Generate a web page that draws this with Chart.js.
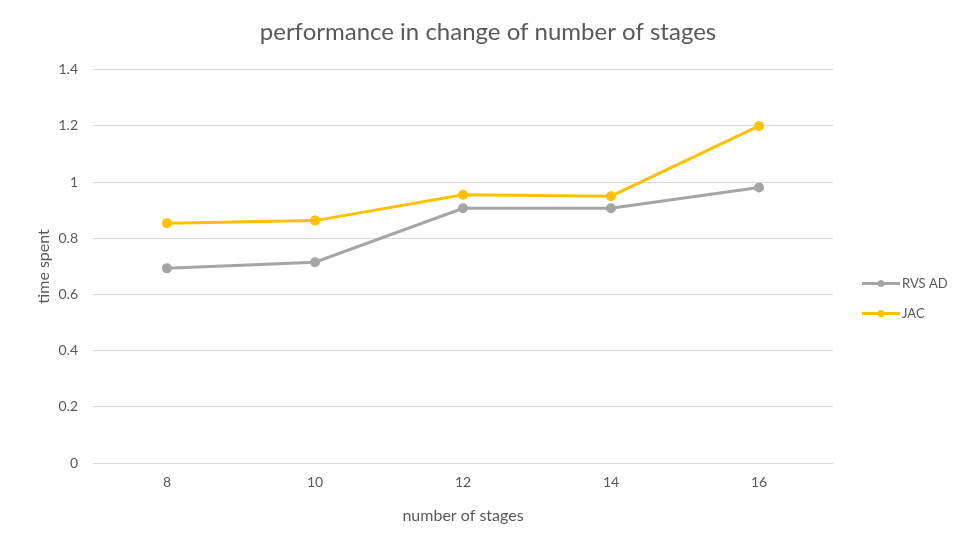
<!DOCTYPE html>
<html>
<head>
<meta charset="utf-8">
<script src="https://cdn.jsdelivr.net/npm/chart.js@4/dist/chart.umd.min.js"></script>
<style>
html,body{margin:0;padding:0;background:#fff;}
#wrap{width:956px;height:539px;}
</style>
</head>
<body>
<div id="wrap"><canvas id="c" width="956" height="539"></canvas></div>
<script>
const categories = ['8', '10', '12', '14', '16'];
const rvsAd = [0.693, 0.715, 0.907, 0.907, 0.981];
const jac = [0.854, 0.863, 0.955, 0.950, 1.2];
const seriesNames = ['RVS AD', 'JAC'];
const titleText = 'performance in change of number of stages';
const xTitle = 'number of stages';
const yTitle = 'time spent';

const FONT = 'Lato, "Open Sans", sans-serif';
const TXT = '#595959';

const legendPlugin = {
  id: 'sideLegend',
  afterDraw(chart) {
    const ctx = chart.ctx;
    const ca = chart.chartArea;
    const x0 = ca.right + 29;
    const mid = (ca.top + ca.bottom) / 2 + 32;
    const n = chart.data.datasets.length;
    ctx.save();
    chart.data.datasets.forEach((ds, i) => {
      const y = mid + (i - (n - 1) / 2) * 30;
      ctx.strokeStyle = ds.borderColor;
      ctx.lineWidth = 3;
      ctx.beginPath();
      ctx.moveTo(x0, y);
      ctx.lineTo(x0 + 38, y);
      ctx.stroke();
      ctx.fillStyle = ds.borderColor;
      ctx.beginPath();
      ctx.arc(x0 + 19, y, 3.5, 0, Math.PI * 2);
      ctx.fill();
      ctx.fillStyle = TXT;
      ctx.font = '13px ' + FONT;
      ctx.textBaseline = 'middle';
      ctx.textAlign = 'left';
      ctx.fillText(ds.label, x0 + 40, y);
    });
    ctx.restore();
  }
};

new Chart(document.getElementById('c'), {
  type: 'line',
  data: {
    labels: categories,
    datasets: [
      {label: seriesNames[0], data: rvsAd, borderColor: '#a5a5a5', backgroundColor: '#a5a5a5', borderWidth: 3, pointRadius: 3.5, pointHoverRadius: 3.5, tension: 0},
      {label: seriesNames[1], data: jac, borderColor: '#ffc000', backgroundColor: '#ffc000', borderWidth: 3, pointRadius: 3.5, pointHoverRadius: 3.5, tension: 0}
    ]
  },
  options: {
    responsive: false,
    animation: false,
    devicePixelRatio: 1,
    layout: {padding: {left: 20, right: 0, top: 0, bottom: 14}},
    plugins: {
      legend: {display: false},
      tooltip: {enabled: false},
      title: {display: true, text: titleText, color: TXT, font: {family: FONT, size: 24, weight: 'normal'}, padding: {top: 18, bottom: 23}}
    },
    scales: {
      x: {
        offset: true,
        grid: {display: false},
        border: {display: false},
        ticks: {color: TXT, font: {family: FONT, size: 14}, padding: 3},
        title: {display: true, text: xTitle, color: TXT, font: {family: FONT, size: 16}, padding: {top: 12, bottom: 0}}
      },
      y: {
        min: 0, max: 1.4,
        afterFit: s => { s.width = 73; },
        grid: {color: '#d9d9d9', lineWidth: 1, drawTicks: false},
        border: {display: false},
        ticks: {stepSize: 0.2, color: TXT, font: {family: FONT, size: 14}, padding: 15,
                callback: v => String(Math.round(v * 10) / 10)},
        title: {display: true, text: yTitle, color: TXT, font: {family: FONT, size: 16}, padding: {top: 14, bottom: 0}}
      },
      yLegendSpace: {
        position: 'right',
        display: true,
        min: 0, max: 1,
        afterFit: s => { s.width = 123; },
        grid: {display: false, drawTicks: false},
        border: {display: false},
        ticks: {display: false}
      }
    }
  },
  plugins: [legendPlugin]
});
</script>
</body>
</html>
